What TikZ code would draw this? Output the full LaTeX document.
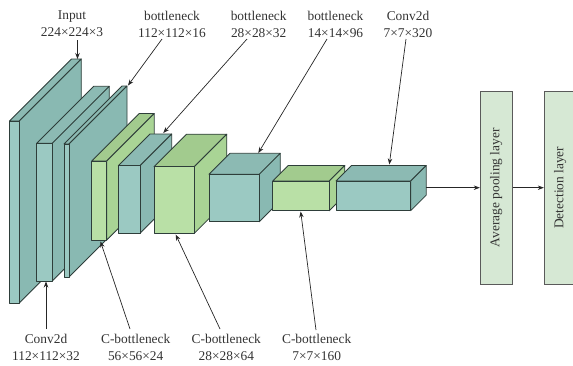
\documentclass[tikz,border=0pt]{standalone}
\usepackage{fontspec}
\setmainfont{Liberation Serif}
\usetikzlibrary{calc,arrows.meta}

\definecolor{tealF}{HTML}{9BC9C2}
\definecolor{tealS}{HTML}{89B9B2}
\definecolor{tealT}{HTML}{8CBAB3}
\definecolor{greenF}{HTML}{B9E0A6}
\definecolor{greenS}{HTML}{A9D495}
\definecolor{greenT}{HTML}{A2CB8E}
\definecolor{edgecol}{HTML}{2E3E3A}
\definecolor{layerfill}{HTML}{D6E8D4}
\definecolor{layeredge}{HTML}{5A5A5A}

\tikzset{
  teal-front/.style={fill=tealF,draw=edgecol,line width=0.8pt,line join=round},
  teal-side/.style={fill=tealS,draw=edgecol,line width=0.8pt,line join=round},
  teal-top/.style={fill=tealT,draw=edgecol,line width=0.8pt,line join=round},
  green-front/.style={fill=greenF,draw=edgecol,line width=0.8pt,line join=round},
  green-side/.style={fill=greenS,draw=edgecol,line width=0.8pt,line join=round},
  green-top/.style={fill=greenT,draw=edgecol,line width=0.8pt,line join=round},
  lbl/.style={align=center,inner sep=0pt,font=\fontsize{13.4}{17}\selectfont,text=black!80},
  arr/.style={draw=black!85,line width=0.7pt,-{Stealth[length=6pt,width=4.5pt]}},
  layerbox/.style={draw=layeredge,fill=layerfill,line width=0.8pt,minimum width=32pt,
    minimum height=193pt,inner sep=0pt,font=\fontsize{13.4}{17}\selectfont,text=black!80}
}

% \drawblock{name}{x1}{y1}{x2}{y2}{depth}{colour family}
\newcommand\drawblock[7]{%
  \coordinate (#1-ftl) at (#2,#3);
  \coordinate (#1-ftr) at (#4,#3);
  \coordinate (#1-fbr) at (#4,#5);
  \coordinate (#1-fbl) at (#2,#5);
  \coordinate (#1-btl) at ($(#1-ftl)+(#6,-#6)$);
  \coordinate (#1-btr) at ($(#1-ftr)+(#6,-#6)$);
  \coordinate (#1-bbr) at ($(#1-fbr)+(#6,-#6)$);
  \draw[#7-top] (#1-ftl) -- (#1-ftr) -- (#1-btr) -- (#1-btl) -- cycle;
  \draw[#7-side] (#1-ftr) -- (#1-fbr) -- (#1-bbr) -- (#1-btr) -- cycle;
  \draw[#7-front] (#1-ftl) rectangle (#1-fbr);
}

\begin{document}
\begin{tikzpicture}[x=1pt,y=-1pt]
\useasboundingbox (0,0) rectangle (573,365);

% feature-map blocks, back to front
\drawblock{b1}{9.5}{121}{19.3}{303}{62}{teal}
\drawblock{b2}{36.7}{143.3}{52.3}{281}{57}{teal}
\drawblock{b3}{64}{144}{69}{277}{58}{teal}
\drawblock{b4}{91.7}{161}{106.7}{240}{47.5}{green}
\drawblock{b5}{118.3}{165.7}{140}{233.3}{31.7}{teal}
\drawblock{b6}{154}{166.7}{194.3}{233.3}{32.5}{green}
\drawblock{b7}{209}{174.3}{259.3}{221.7}{21}{teal}
\drawblock{b8}{272.7}{181}{329.3}{210.7}{15.5}{green}
\drawblock{b9}{336}{181}{410.7}{210.7}{15.5}{teal}

% final layers
\node[layerbox] (pool) at (496.2,187.7) {\rotatebox{90}{Average pooling layer}};
\node[layerbox] (det) at (560.2,187.7) {\rotatebox{90}{Detection layer}};

% labels above
\node[lbl,anchor=north] (tin) at (72,10.5) {Input\\224×224×3};
\node[lbl,anchor=north] (tb1) at (172,10.5) {bottleneck\\112×112×16};
\node[lbl,anchor=north] (tb2) at (258.7,10.5) {bottleneck\\28×28×32};
\node[lbl,anchor=north] (tb3) at (335.5,10.5) {bottleneck\\14×14×96};
\node[lbl,anchor=north] (tcv) at (408,10.5) {Conv2d\\7×7×320};

% labels below
\node[lbl,anchor=north] (lcv) at (46,333.5) {Conv2d\\112×112×32};
\node[lbl,anchor=north] (lc1) at (135.7,333.5) {C-bottleneck\\56×56×24};
\node[lbl,anchor=north] (lc2) at (226.3,333.5) {C-bottleneck\\28×28×64};
\node[lbl,anchor=north] (lc3) at (316.7,333.5) {C-bottleneck\\7×7×160};

% arrow end points
\coordinate (s1) at (77.5,40);   \coordinate (t1) at (77.5,59);
\coordinate (s2) at (162,39);    \coordinate (t2) at (128,85.5);
\coordinate (s3) at (247,39);    \coordinate (t3) at (163.3,133);
\coordinate (s4) at (327,39);    \coordinate (t4) at (258.3,153);
\coordinate (s5) at (406,39);    \coordinate (t5) at (389.3,164.5);
\coordinate (u1) at (46,329);    \coordinate (v1) at (46,281.5);
\coordinate (u2) at (130,329);   \coordinate (v2) at (100.5,241.5);
\coordinate (u3) at (220,329);   \coordinate (v3) at (175.7,234.5);
\coordinate (u4) at (316,330);   \coordinate (v4) at (300.7,211.5);
\coordinate (o9) at (426,187.7);

\draw[arr] (s1) -- (t1);
\draw[arr] (s2) -- (t2);
\draw[arr] (s3) -- (t3);
\draw[arr] (s4) -- (t4);
\draw[arr] (s5) -- (t5);
\draw[arr] (u1) -- (v1);
\draw[arr] (u2) -- (v2);
\draw[arr] (u3) -- (v3);
\draw[arr] (u4) -- (v4);
\draw[arr] (o9) -- (pool.west);
\draw[arr] (pool.east) -- (det.west);
\end{tikzpicture}
\end{document}
